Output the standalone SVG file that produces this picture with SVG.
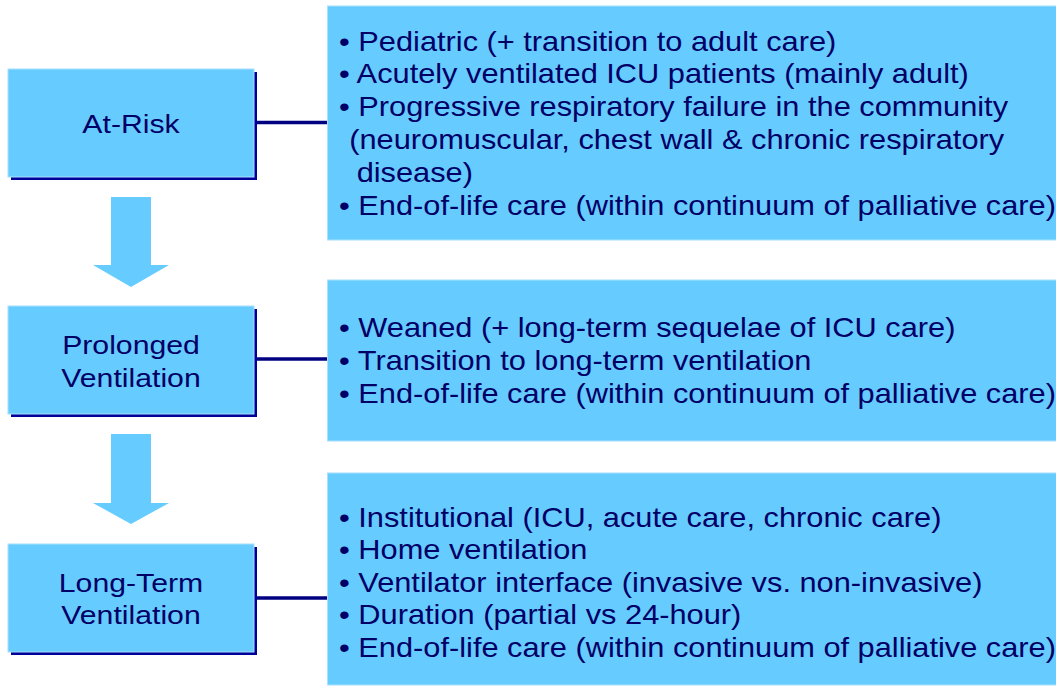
<svg xmlns="http://www.w3.org/2000/svg" width="1056" height="686" viewBox="0 0 1056 686">
  <style>
    .box { fill: #66CCFF; stroke: #A8E0FF; stroke-width: 1; }
    .shadow { fill: #000099; }
    .rbox { fill: #66CCFF; stroke: #A8E0FF; stroke-width: 1; }
    .arrow { fill: #66CCFF; }
    .conn { stroke: #000080; stroke-width: 3.5; fill: none; }
    text { font-family: "Liberation Sans", Arial, sans-serif; fill: #000066; }
    .lbl { font-size: 26.5px; text-anchor: middle; }
    .item { font-size: 27px; }
  </style>

  <!-- Connectors -->
  <g id="connectors">
    <line class="conn" x1="255" y1="122.5" x2="328" y2="122.5"/>
    <line class="conn" x1="255" y1="359" x2="328" y2="359"/>
    <line class="conn" x1="255" y1="598" x2="328" y2="598"/>
    <path class="arrow" d="M111,197 H151 V265 H169 L131,287 L93,265 H111 Z"/>
    <path class="arrow" d="M111,434 H151 V503 H169 L131,524 L93,503 H111 Z"/>
  </g>

  <!-- Left stage nodes -->
  <g id="node-at-risk">
    <rect class="shadow" x="11" y="72" width="246" height="108"/>
    <rect class="box" x="8" y="69" width="246" height="108"/>
    <g transform="translate(131,0) scale(1.14,1)">
      <text class="lbl" x="0" y="133">At-Risk</text>
    </g>
  </g>

  <g id="node-prolonged">
    <rect class="shadow" x="11" y="309" width="246" height="108"/>
    <rect class="box" x="8" y="306" width="246" height="108"/>
    <g transform="translate(131,0) scale(1.14,1)">
      <text class="lbl" x="0" y="354">Prolonged</text>
      <text class="lbl" x="0" y="387">Ventilation</text>
    </g>
  </g>

  <g id="node-long-term">
    <rect class="shadow" x="11" y="547" width="246" height="108"/>
    <rect class="box" x="8" y="544" width="246" height="108"/>
    <g transform="translate(131,0) scale(1.14,1)">
      <text class="lbl" x="0" y="592">Long-Term</text>
      <text class="lbl" x="0" y="624">Ventilation</text>
    </g>
  </g>

  <!-- Right detail nodes -->
  <g id="detail-at-risk">
    <rect class="rbox" x="327.5" y="6" width="740" height="234"/>
    <g transform="translate(339,0) scale(1.14,1)">
      <text class="item" x="0" y="51">• Pediatric (+ transition to adult care)</text>
      <text class="item" x="0" y="83">• Acutely ventilated ICU patients (mainly adult)</text>
      <text class="item" x="0" y="116">• Progressive respiratory failure in the community</text>
      <text class="item" x="9" y="149">(neuromuscular, chest wall &amp; chronic respiratory</text>
      <text class="item" x="15.5" y="182">disease)</text>
      <text class="item" x="0" y="215">• End-of-life care (within continuum of palliative care)</text>
    </g>
  </g>

  <g id="detail-prolonged">
    <rect class="rbox" x="327.5" y="280" width="740" height="161"/>
    <g transform="translate(339,0) scale(1.14,1)">
      <text class="item" x="0" y="337">• Weaned (+ long-term sequelae of ICU care)</text>
      <text class="item" x="0" y="370">• Transition to long-term ventilation</text>
      <text class="item" x="0" y="403">• End-of-life care (within continuum of palliative care)</text>
    </g>
  </g>

  <g id="detail-long-term">
    <rect class="rbox" x="327.5" y="473" width="740" height="212"/>
    <g transform="translate(339,0) scale(1.14,1)">
      <text class="item" x="0" y="527">• Institutional (ICU, acute care, chronic care)</text>
      <text class="item" x="0" y="559">• Home ventilation</text>
      <text class="item" x="0" y="592">• Ventilator interface (invasive vs. non-invasive)</text>
      <text class="item" x="0" y="624">• Duration (partial vs 24-hour)</text>
      <text class="item" x="0" y="657">• End-of-life care (within continuum of palliative care)</text>
    </g>
  </g>
</svg>
